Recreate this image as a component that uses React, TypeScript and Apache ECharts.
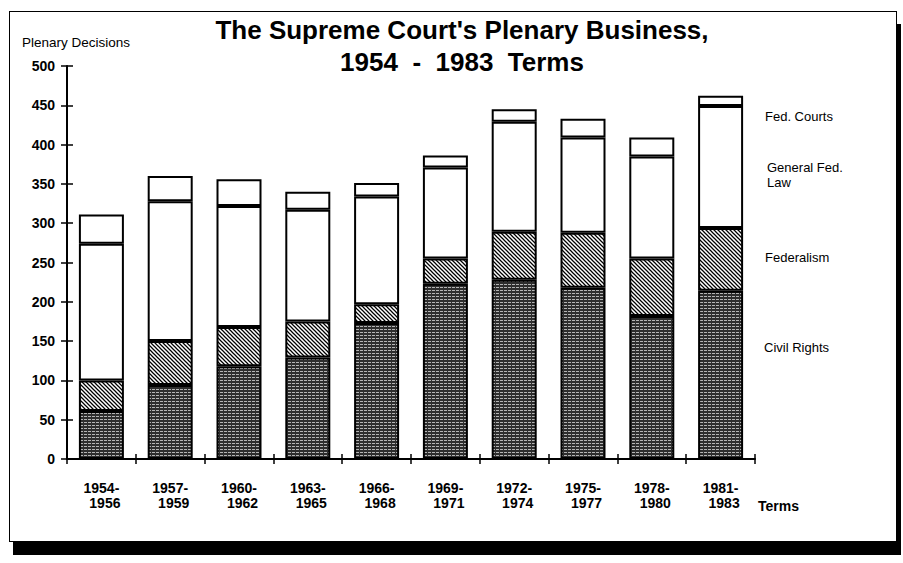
import React, { useEffect, useRef } from 'react';
import * as echarts from 'echarts';

const terms = ['1954-1956', '1957-1959', '1960-1962', '1963-1965', '1966-1968', '1969-1971', '1972-1974', '1975-1977', '1978-1980', '1981-1983'];
const civilRights = [61, 94, 118, 129, 173, 223, 228, 218, 182, 214];
const federalism = [39, 56, 50, 46, 24, 32, 61, 70, 73, 80];
const generalFedLaw = [174, 178, 154, 142, 137, 116, 140, 121, 130, 155];
const fedCourts = [37, 32, 34, 23, 17, 15, 16, 24, 24, 13];
const yMin = 0;
const yMax = 500;
const yStep = 50;

const FONT = 'Liberation Sans, Arial, Helvetica, sans-serif';

function svgUrl(svg: string) {
  return 'data:image/svg+xml;charset=utf-8,' + encodeURIComponent(svg);
}

const hatchSvg = svgUrl(
  "<svg xmlns='http://www.w3.org/2000/svg' width='4' height='4'>" +
    "<rect width='4' height='4' fill='#ffffff'/>" +
    "<path d='M-1,-1L5,5M3,-1L5,1M-1,3L1,5' stroke='#000000' stroke-width='1.25'/>" +
    '</svg>'
);

const civilSvg = svgUrl(
  "<svg xmlns='http://www.w3.org/2000/svg' width='4' height='3'>" +
    "<rect width='4' height='3' fill='#2e2e2e'/>" +
    "<path d='M0,2.5H3' stroke='#c4c4c4' stroke-width='0.9'/>" +
    '</svg>'
);

export default function App() {
  const ref = useRef<HTMLDivElement>(null);

  useEffect(() => {
    if (!ref.current) return;
    const chart = echarts.init(ref.current, undefined, { renderer: 'svg' });

    const hatch: any = { image: hatchSvg, repeat: 'repeat', imageWidth: 4, imageHeight: 4 };
    const civil: any = { image: civilSvg, repeat: 'repeat', imageWidth: 4, imageHeight: 3 };

    const border = { borderColor: '#000', borderWidth: 2 };
    const barW = 45;

    const labelText = (x: number, y: number, text: string, extra: any = {}) => ({
      type: 'text',
      x,
      y,
      style: {
        text,
        fill: '#000',
        fontSize: 13,
        fontFamily: FONT,
        verticalAlign: 'middle',
        align: 'left',
        ...extra,
      },
    });

    chart.setOption({
      animation: false,
      title: {
        text: "The Supreme Court's Plenary Business,\n1954  -  1983  Terms",
        left: 457,
        top: 9,
        textAlign: 'center',
        textStyle: {
          fontFamily: FONT,
          fontSize: 26,
          fontWeight: 'bold',
          color: '#000',
          lineHeight: 32,
        },
      },
      grid: { left: 67, top: 66, width: 688, height: 393 },
      xAxis: [
        {
          type: 'category',
          data: terms,
          position: 'bottom',
          axisLine: { show: true, lineStyle: { color: '#000', width: 2 } },
          axisTick: { show: true, interval: 0, length: 5, lineStyle: { color: '#000', width: 1.5 } },
          axisLabel: {
            interval: 0,
            margin: 21,
            color: '#000',
            fontFamily: FONT,
            fontSize: 14,
            fontWeight: 'bold',
            formatter: (v: string) => {
              const [a, b] = v.split('-');
              return `{a|${a}-}\n{b|${b}}`;
            },
            rich: {
              a: { fontSize: 14, lineHeight: 15, fontFamily: FONT, fontWeight: 'bold', color: '#000' },
              b: { fontSize: 14, lineHeight: 15, fontFamily: FONT, fontWeight: 'bold', color: '#000', padding: [0, 0, 0, 7] },
            },
          },
        },
        {
          type: 'category',
          data: terms,
          position: 'bottom',
          axisLine: { show: false },
          axisTick: { show: true, inside: true, interval: 0, length: 5, lineStyle: { color: '#000', width: 1.5 } },
          axisLabel: { show: false },
        },
      ],
      yAxis: [
        {
          type: 'value',
          min: yMin,
          max: yMax,
          interval: yStep,
          position: 'left',
          axisLine: { show: true, lineStyle: { color: '#000', width: 2 } },
          axisTick: { show: true, length: 6, lineStyle: { color: '#000', width: 1.5 } },
          axisLabel: { margin: 12, color: '#000', fontFamily: FONT, fontSize: 14, fontWeight: 'bold' },
          splitLine: { show: false },
        },
        {
          type: 'value',
          min: yMin,
          max: yMax,
          interval: yStep,
          position: 'left',
          axisLine: { show: false },
          axisTick: { show: true, inside: true, length: 6, lineStyle: { color: '#000', width: 1.5 } },
          axisLabel: { show: false },
          splitLine: { show: false },
        },
      ],
      series: [
        { name: 'Civil Rights', type: 'bar', stack: 'total', barWidth: barW, data: civilRights, itemStyle: { color: civil, ...border } },
        { name: 'Federalism', type: 'bar', stack: 'total', barWidth: barW, data: federalism, itemStyle: { color: hatch, ...border } },
        { name: 'General Fed. Law', type: 'bar', stack: 'total', barWidth: barW, data: generalFedLaw, itemStyle: { color: '#fff', ...border } },
        { name: 'Fed. Courts', type: 'bar', stack: 'total', barWidth: barW, data: fedCourts, itemStyle: { color: '#fff', ...border } },
      ],
      graphic: [
        labelText(22, 42, 'Plenary Decisions', { fontSize: 13.5 }),
        labelText(765, 116, 'Fed. Courts'),
        labelText(767, 174.5, 'General Fed.\nLaw', { lineHeight: 15 }),
        labelText(765, 257, 'Federalism'),
        labelText(764, 347, 'Civil Rights'),
        labelText(758, 506, 'Terms', { fontSize: 14, fontWeight: 'bold' }),
      ],
    });

    return () => chart.dispose();
  }, []);

  return (
    <div style={{ position: 'fixed', left: 0, top: 0, width: 903, height: 563, background: '#fff' }}>
      <div
        style={{
          position: 'absolute',
          left: 9,
          top: 11,
          width: 886,
          height: 529,
          border: '1.5px solid #000',
          background: '#fff',
          boxShadow: '4px 13px 0 #000',
        }}
      />
      <div ref={ref} style={{ position: 'absolute', left: 0, top: 0, width: 903, height: 563 }} />
    </div>
  );
}
